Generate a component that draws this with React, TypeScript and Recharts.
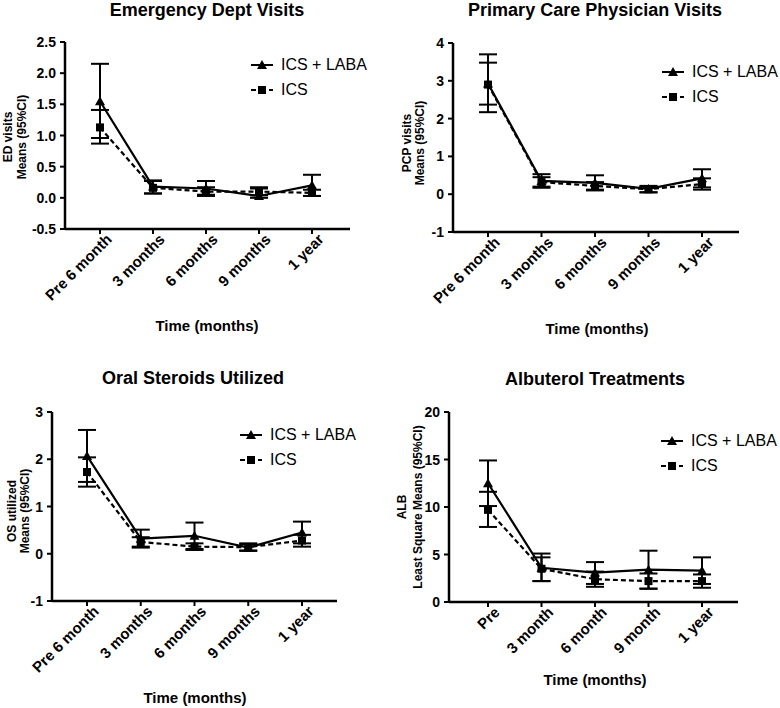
import React from "react"
import { LineChart, Line, XAxis, YAxis, ErrorBar, Legend } from "recharts"

const FONT = '"Liberation Sans", Arial, Helvetica, sans-serif'

// categories
const monthCats = ["Pre 6 month", "3 months", "6 months", "9 months", "1 year"]
const albCats = ["Pre", "3 month", "6 month", "9 month", "1 year"]

// Emergency dept visits
const edLabaMean = [1.55, 0.18, 0.15, 0.03, 0.2]
const edLabaLow = [0.96, 0.07, 0.03, 0.0, 0.03]
const edLabaHigh = [2.15, 0.28, 0.27, 0.17, 0.37]
const edIcsMean = [1.13, 0.16, 0.1, 0.1, 0.08]
const edIcsLow = [0.87, 0.07, 0.05, 0.04, 0.03]
const edIcsHigh = [1.41, 0.27, 0.17, 0.15, 0.13]
const edTicks = [-0.5, 0, 0.5, 1, 1.5, 2, 2.5]

// Primary care physician visits
const pcpLabaMean = [2.93, 0.35, 0.3, 0.14, 0.42]
const pcpLabaLow = [2.17, 0.17, 0.1, 0.05, 0.18]
const pcpLabaHigh = [3.7, 0.53, 0.5, 0.22, 0.66]
const pcpIcsMean = [2.9, 0.32, 0.22, 0.13, 0.27]
const pcpIcsLow = [2.37, 0.2, 0.12, 0.05, 0.12]
const pcpIcsHigh = [3.48, 0.45, 0.32, 0.2, 0.42]
const pcpTicks = [-1, 0, 1, 2, 3, 4]

// Oral steroids utilized
const osLabaMean = [2.07, 0.32, 0.38, 0.13, 0.45]
const osLabaLow = [1.52, 0.13, 0.1, 0.06, 0.22]
const osLabaHigh = [2.62, 0.51, 0.66, 0.2, 0.68]
const osIcsMean = [1.73, 0.25, 0.15, 0.14, 0.28]
const osIcsLow = [1.42, 0.15, 0.08, 0.07, 0.15]
const osIcsHigh = [2.04, 0.35, 0.22, 0.22, 0.4]
const osTicks = [-1, 0, 1, 2, 3]

// Albuterol treatments
const albLabaMean = [12.5, 3.6, 3.1, 3.4, 3.3]
const albLabaLow = [10.1, 2.2, 1.9, 1.4, 1.9]
const albLabaHigh = [14.9, 5.1, 4.2, 5.4, 4.7]
const albIcsMean = [9.7, 3.5, 2.4, 2.2, 2.2]
const albIcsLow = [7.9, 2.2, 1.6, 1.4, 1.5]
const albIcsHigh = [11.6, 4.7, 3.2, 3.0, 2.9]
const albTicks = [0, 5, 10, 15, 20]

const buildRows = (cats, lm, ll, lh, im, il, ih) =>
  cats.map((c, i) => ({
    cat: c,
    laba: lm[i],
    labaErr: [lm[i] - ll[i], lh[i] - lm[i]],
    ics: im[i],
    icsErr: [im[i] - il[i], ih[i] - im[i]],
  }))

const Triangle = ({ cx, cy }) => (
  <path d={`M${cx},${cy - 5}L${cx + 5},${cy + 4}L${cx - 5},${cy + 4}Z`} fill="#000" />
)
const Square = ({ cx, cy }) => <rect x={cx - 4} y={cy - 4} width={8} height={8} fill="#000" />

const XTick = ({ x, y, payload }) => (
  <g transform={`translate(${x},${y})`}>
    <text
      x={6}
      y={12}
      textAnchor="end"
      transform="rotate(-45)"
      fontFamily={FONT}
      fontWeight="bold"
      fontSize={15}
      fill="#000"
    >
      {payload.value}
    </text>
  </g>
)

const YTick = ({ x, y, payload, fmt }) => (
  <text
    x={x}
    y={y}
    textAnchor="end"
    dominantBaseline="central"
    fontFamily={FONT}
    fontWeight="bold"
    fontSize={14}
    fill="#000"
  >
    {fmt(payload.value)}
  </text>
)

const LegendBox = () => (
  <div style={{ fontFamily: FONT, fontSize: 16, color: "#000" }}>
    {[
      { name: "ICS + LABA", dash: undefined, mark: <Triangle cx={11} cy={6} /> },
      { name: "ICS", dash: "5 4", mark: <Square cx={11} cy={6} /> },
    ].map((it) => (
      <div key={it.name} style={{ display: "flex", alignItems: "center", height: 25 }}>
        <svg width={22} height={12}>
          <line x1={0} y1={6} x2={22} y2={6} stroke="#000" strokeWidth={2} strokeDasharray={it.dash} />
          {it.mark}
        </svg>
        <span style={{ marginLeft: 8 }}>{it.name}</span>
      </div>
    ))}
  </div>
)

function Panel({ p, left, top }) {
  const rows = buildRows(p.cats, ...p.series)
  const L = p.layout
  const yAxisW = 40
  return (
    <div style={{ position: "absolute", left, top, width: 390, height: 354 }}>
      <div
        style={{
          position: "absolute",
          left: L.titleX - 195,
          top: L.titleY - 11,
          width: 390,
          textAlign: "center",
          fontFamily: FONT,
          fontWeight: "bold",
          fontSize: 18,
          lineHeight: "22px",
          color: "#000",
        }}
      >
        {p.title}
      </div>
      <LineChart
        width={390}
        height={354}
        data={rows}
        margin={{ top: L.top, right: 390 - L.right, bottom: 0, left: L.left - yAxisW }}
      >
        <XAxis
          dataKey="cat"
          height={354 - L.bottom}
          padding={{ left: L.padL, right: L.padR }}
          axisLine={{ stroke: "#000", strokeWidth: 2.5 }}
          tickLine={{ stroke: "#000", strokeWidth: 2 }}
          tickSize={5}
          interval={0}
          tick={(t) => <XTick {...t} />}
          label={() => (
            <text
              x={L.xTitleX}
              y={L.xTitleY}
              textAnchor="middle"
              dominantBaseline="central"
              fontFamily={FONT}
              fontWeight="bold"
              fontSize={15}
              fill="#000"
            >
              Time (months)
            </text>
          )}
        />
        <YAxis
          width={yAxisW}
          type="number"
          domain={[p.ticks[0], p.ticks[p.ticks.length - 1]]}
          ticks={p.ticks}
          interval={0}
          axisLine={{ stroke: "#000", strokeWidth: 2.5 }}
          tickLine={{ stroke: "#000", strokeWidth: 2 }}
          tickSize={5}
          tickMargin={4}
          tick={(t) => <YTick {...t} fmt={p.fmt} />}
          label={() => (
            <g transform={`translate(0,${L.yLabY})`}>
              {p.yLabel.map((s, i) => (
                <text
                  key={s}
                  transform={`translate(${L.yLabX[i]},0) rotate(-90)`}
                  textAnchor="middle"
                  dominantBaseline="central"
                  fontFamily={FONT}
                  fontWeight="bold"
                  fontSize={12}
                  fill="#000"
                >
                  {s}
                </text>
              ))}
            </g>
          )}
        />
        <Legend
          layout="vertical"
          align="center"
          verticalAlign="middle"
          wrapperStyle={{ left: L.legX, top: L.legY, width: "auto" }}
          content={() => <LegendBox />}
        />
        <Line
          dataKey="laba"
          stroke="#000"
          strokeWidth={2.2}
          isAnimationActive={false}
          dot={(d) => <Triangle key={`t${d.index}`} cx={d.cx} cy={d.cy} />}
          activeDot={false}
        >
          <ErrorBar dataKey="labaErr" width={9} strokeWidth={2} stroke="#000" direction="y" isAnimationActive={false} />
        </Line>
        <Line
          dataKey="ics"
          stroke="#000"
          strokeWidth={2.2}
          strokeDasharray="5 3"
          isAnimationActive={false}
          dot={(d) => <Square key={`s${d.index}`} cx={d.cx} cy={d.cy} />}
          activeDot={false}
        >
          <ErrorBar dataKey="icsErr" width={9} strokeWidth={2} stroke="#000" direction="y" isAnimationActive={false} />
        </Line>
      </LineChart>
    </div>
  )
}

const panels = [
  {
    title: "Emergency Dept Visits",
    yLabel: ["ED visits", "Means (95%CI)"],
    cats: monthCats,
    series: [edLabaMean, edLabaLow, edLabaHigh, edIcsMean, edIcsLow, edIcsHigh],
    ticks: edTicks,
    fmt: (v) => v.toFixed(1),
    layout: {
      left: 65, right: 350, top: 42, bottom: 229, padL: 35, padR: 38,
      titleX: 207, titleY: 10, legX: 251, legY: 52,
      yLabX: [8, 22], yLabY: 137, xTitleX: 207, xTitleY: 325,
    },
    pos: [0, 0],
  },
  {
    title: "Primary Care Physician Visits",
    yLabel: ["PCP visits", "Means (95%CI)"],
    cats: monthCats,
    series: [pcpLabaMean, pcpLabaLow, pcpLabaHigh, pcpIcsMean, pcpIcsLow, pcpIcsHigh],
    ticks: pcpTicks,
    fmt: (v) => String(v),
    layout: {
      left: 63, right: 349, top: 43, bottom: 232, padL: 35, padR: 37,
      titleX: 205, titleY: 10, legX: 272, legY: 59,
      yLabX: [17, 30], yLabY: 143, xTitleX: 207, xTitleY: 328,
    },
    pos: [390, 0],
  },
  {
    title: "Oral Steroids Utilized",
    yLabel: ["OS utilized", "Means (95%CI)"],
    cats: monthCats,
    series: [osLabaMean, osLabaLow, osLabaHigh, osIcsMean, osIcsLow, osIcsHigh],
    ticks: osTicks,
    fmt: (v) => String(v),
    layout: {
      left: 52, right: 337, top: 58, bottom: 247, padL: 35, padR: 35,
      titleX: 193, titleY: 24, legX: 240, legY: 68,
      yLabX: [12, 25], yLabY: 157, xTitleX: 195, xTitleY: 343,
    },
    pos: [0, 354],
  },
  {
    title: "Albuterol Treatments",
    yLabel: ["ALB", "Least Square Means (95%CI)"],
    cats: albCats,
    series: [albLabaMean, albLabaLow, albLabaHigh, albIcsMean, albIcsLow, albIcsHigh],
    ticks: albTicks,
    fmt: (v) => String(v),
    layout: {
      left: 59, right: 348, top: 58, bottom: 248, padL: 39, padR: 36,
      titleX: 205, titleY: 25, legX: 271, legY: 74,
      yLabX: [12, 28], yLabY: 153, xTitleX: 205, xTitleY: 325,
    },
    pos: [390, 354],
  },
]

export default function App() {
  return (
    <div style={{ position: "absolute", left: 0, top: 0, width: 780, height: 708, background: "#fff" }}>
      {panels.map((p) => (
        <Panel key={p.title} p={p} left={p.pos[0]} top={p.pos[1]} />
      ))}
    </div>
  )
}
